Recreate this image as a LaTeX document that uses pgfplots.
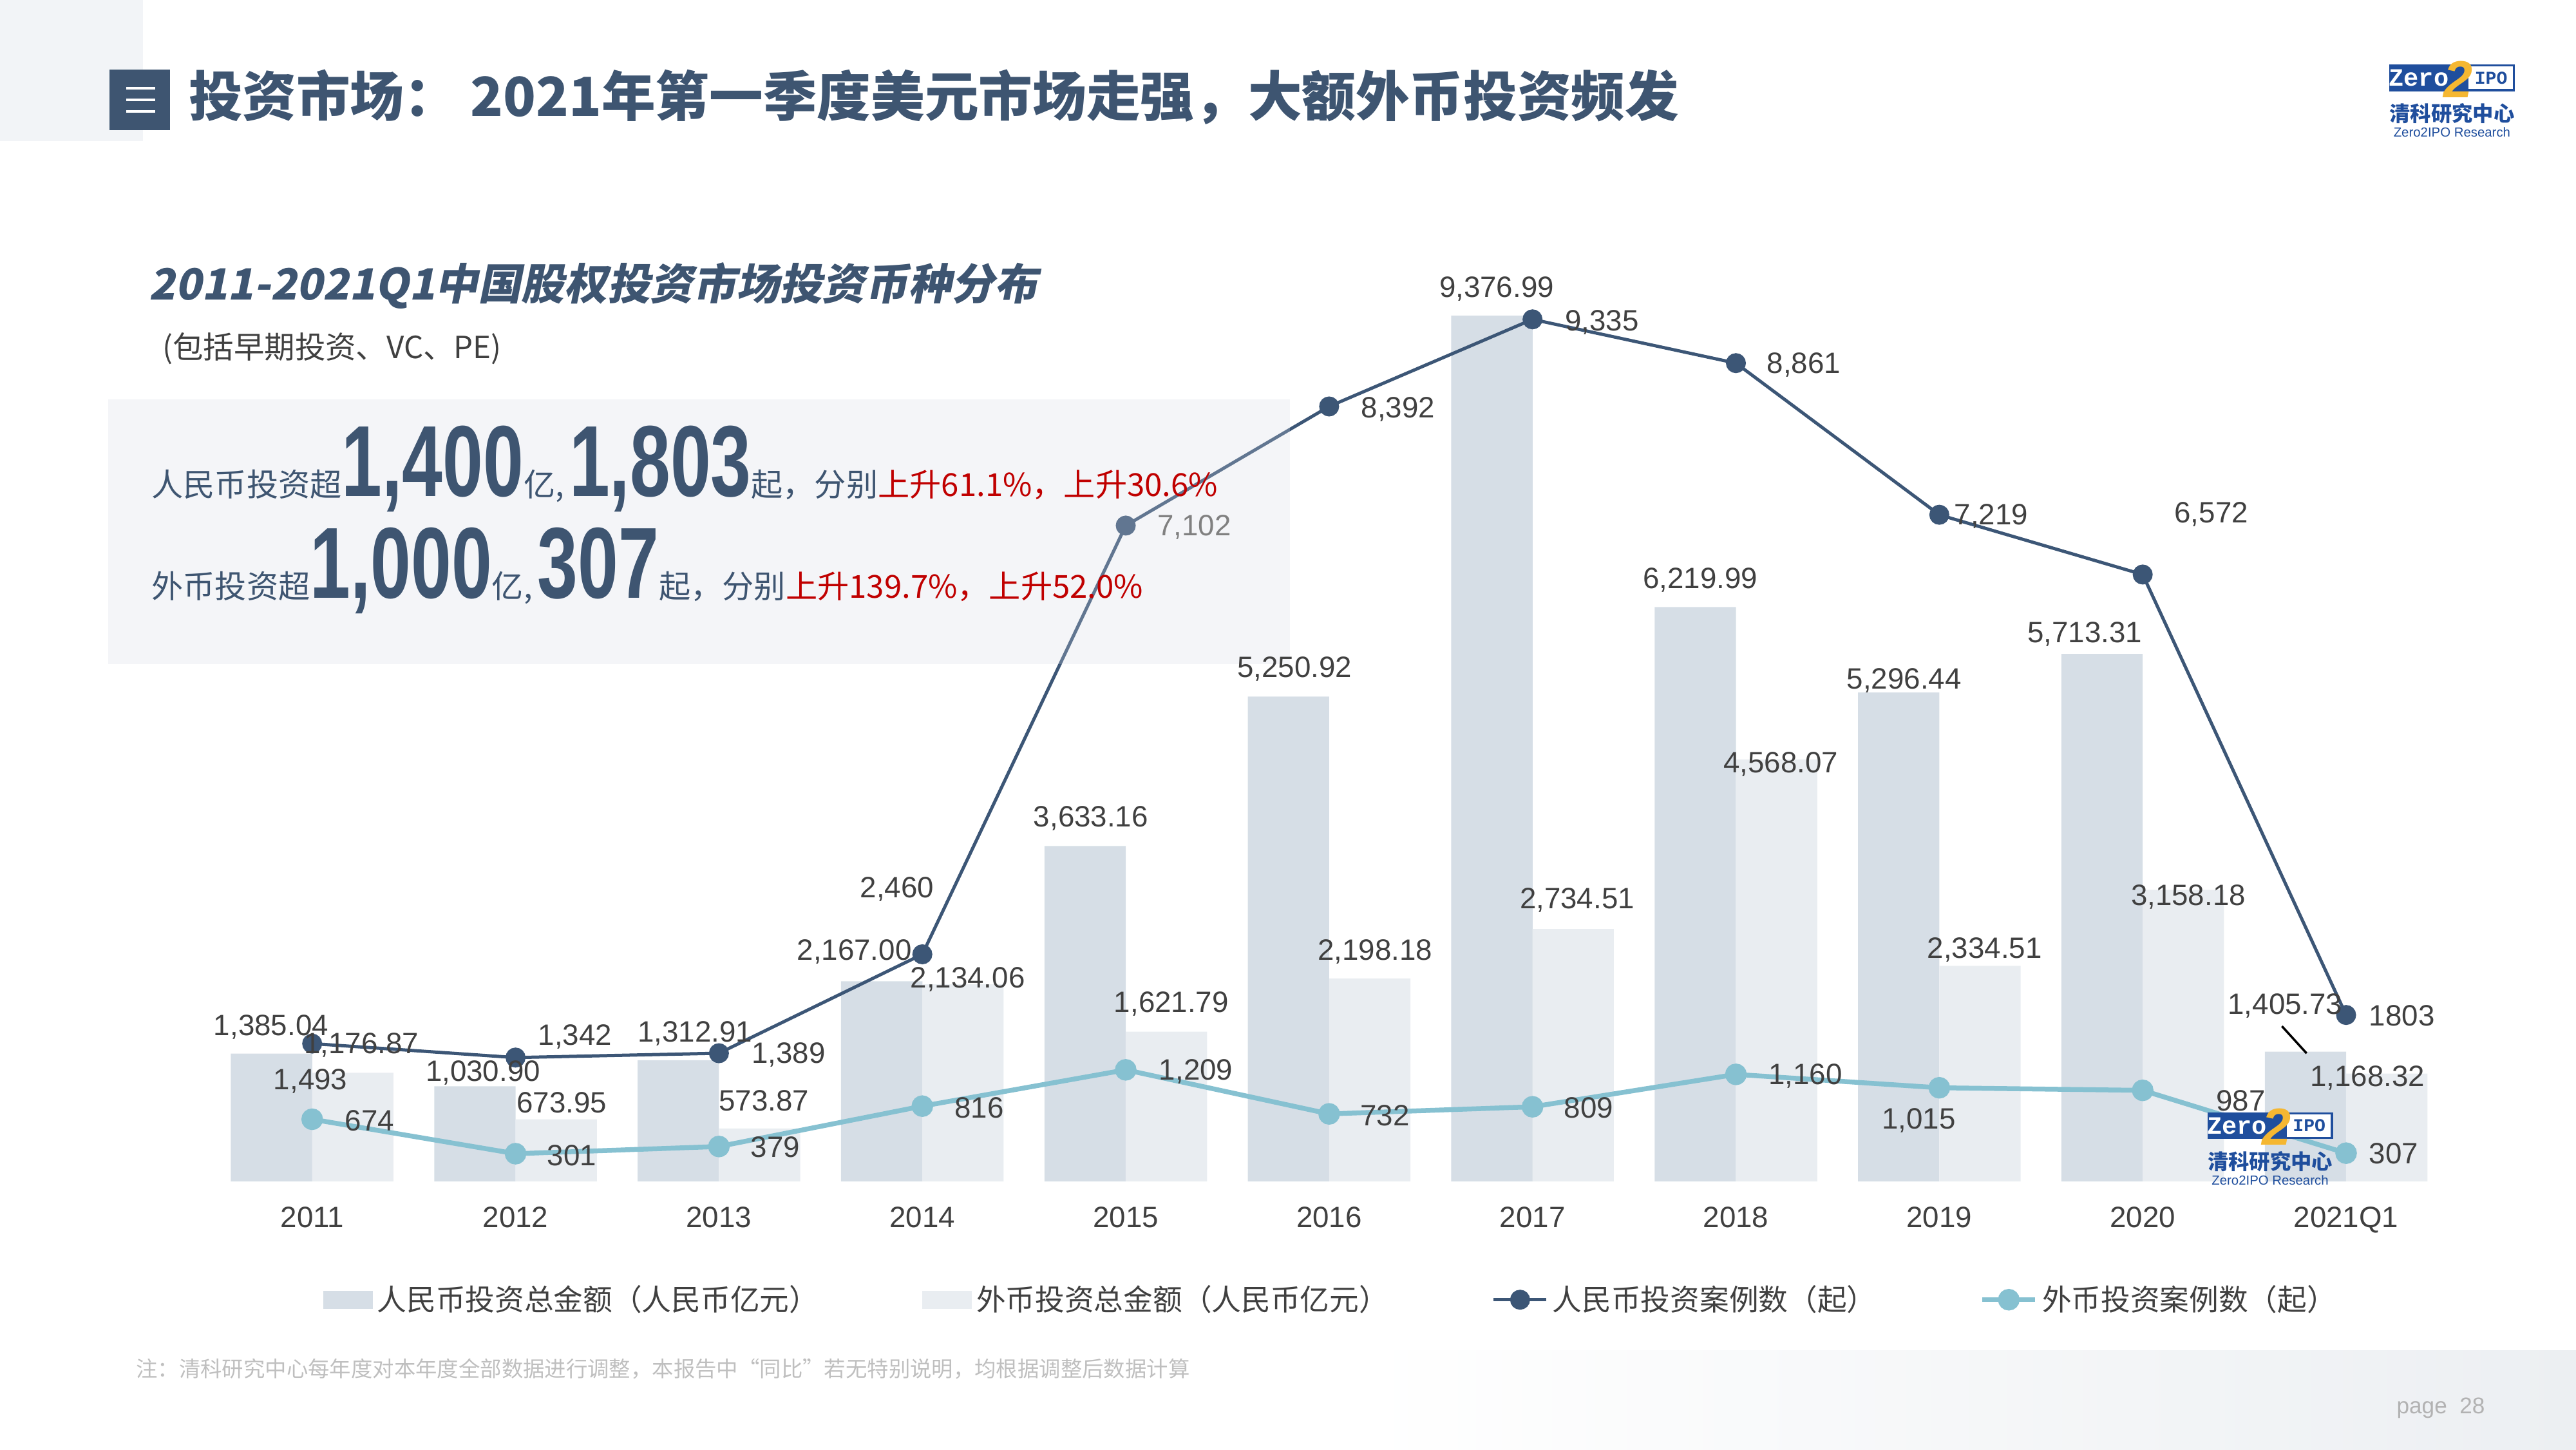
\documentclass[border=0pt]{standalone}
\usepackage{fontspec}
\setmainfont{Liberation Sans}
\newfontfamily\cjk{Noto Sans CJK SC}
\newfontfamily\cjksl[FakeSlant=0.2]{Noto Sans CJK SC}
\newfontfamily\narrow[FakeStretch=0.72]{Liberation Sans}
\newfontfamily\mono{Liberation Mono}
\usepackage{pgfplots}
\usepackage{pgfplotstable}
\pgfplotsset{compat=1.18}

\definecolor{slate}{HTML}{3E5571}
\definecolor{darkline}{HTML}{3C5676}
\definecolor{lightline}{HTML}{86C1D1}
\definecolor{rmbbar}{HTML}{D6DEE6}
\definecolor{fxbar}{HTML}{E9EDF1}
\definecolor{boxc}{RGB}{211,215,227}
\definecolor{lbl}{HTML}{404040}
\definecolor{zblue}{HTML}{1F4E9D}
\definecolor{zyellow}{HTML}{F5B731}
\definecolor{redt}{HTML}{C00000}
\definecolor{note}{HTML}{BFBFBF}
\definecolor{topblk}{HTML}{F2F4F7}
\definecolor{gradc}{HTML}{ECEFF2}

\pgfplotsset{
  linelegend/.style={legend image code/.code={%
    \draw[mark repeat=2,mark phase=2,##1] plot coordinates {(0mm,0mm) (4.1mm,0mm) (8.2mm,0mm)};}},
  barlegend/.style={legend image code/.code={%
    \fill[#1] (0mm,-1.4mm) rectangle (7.7mm,1.4mm);}},
}

\newcommand\fs[1]{\fontsize{#1}{#1}\selectfont}
\newcommand\bignum[1]{{\narrow\bfseries\fs{44.6}#1}}

% logo, top-left corner of the blue box given in page pixels (y down)
\newcommand\logo[2]{%
\begin{scope}[shift={(#1,882-#2)}]
  \fill[zblue] (0,0) rectangle (76.5,-16.3);
  \fill[white] (48.4,-1.3) rectangle (75.2,-15);
  \node[white,font=\mono\bfseries\fs{11}] at (18,-8.4) {Zero};
  \node[zblue,font=\mono\bfseries\fs{8}] at (62,-8.2) {IPO};
  \node[zyellow,font=\bfseries\itshape\fs{23}] at (42,-9) {2};
  \node[zblue,font=\cjk\bfseries\fs{9.2}] at (38.2,-30) {清科研究中心};
  \node[zblue,font=\fs{5.8}] at (38.2,-41.4) {Zero2IPO Research};
\end{scope}}

\pgfplotstableread{
x rmb fx rmbn fxn
0 1385.04 1176.87 1493 674
1 1030.90 673.95 1342 301
2 1312.91 573.87 1389 379
3 2167.00 2134.06 2460 816
4 3633.16 1621.79 7102 1209
5 5250.92 2198.18 8392 732
6 9376.99 2734.51 9335 809
7 6219.99 4568.07 8861 1160
8 5296.44 2334.51 7219 1015
9 5713.31 3158.18 6572 987
10 1405.73 1168.32 1803 307
}\data

\begin{document}
\begin{tikzpicture}[x=0.255102mm,y=0.255102mm]
\useasboundingbox (0,0) rectangle (1568,882);

% page decoration
\fill[topblk] (0,882) rectangle (87,882-86);
\shade[left color=white, right color=gradc] (829,0) rectangle (1568,60);
\fill[slate] (66.6,882-42.5) rectangle (103.6,882-79.3);
\foreach \yy in {53.8,60.8,67.8}
  \fill[white] (77,882-\yy+0.8) rectangle (94.5,882-\yy-0.8);
\node[anchor=west, text=slate, font=\cjk\bfseries\fs{23.8}] at (110,882-59)
  {投资市场：\ 2021年第一季度美元市场走强，大额外币投资频发};
\logo{1454.3}{39.2}

\node[anchor=west, text=slate, font=\cjksl\bfseries\fs{19}] at (86,882-174)
  {2011-2021Q1中国股权投资市场投资币种分布};
\node[anchor=west, text=lbl, font=\cjk\fs{13.5}] at (94,882-212)
  {(包括早期投资、VC、PE)};

\begin{axis}[
  at={(32.68mm,41.58mm)}, anchor=south west,
  scale only axis, width=347.4mm, height=143.37mm,
  xmin=-0.5, xmax=10.5, ymin=0, ymax=10000,
  clip=false,
  axis line style={draw=none}, major tick length=0pt,
  ytick=\empty,
  xtick={0,...,10},
  xticklabels={2011,2012,2013,2014,2015,2016,2017,2018,2019,2020,2021Q1},
  xticklabel style={anchor=base, yshift=-7.15mm, font=\fs{13}, text=lbl},
  legend columns=4,
  legend style={at={(0.5013,-0.128)}, anchor=center, draw=none, fill=none,
    font=\cjk\fs{13}, text=lbl,
    /tikz/every even column/.append style={column sep=15.4mm}},
]
\addplot[ybar, bar width=12.63mm, bar shift=-6.31mm, fill=rmbbar, draw=none,
  barlegend=rmbbar]
  table[x=x, y=rmb] {\data};
\addlegendentry{人民币投资总金额（人民币亿元）}
\addplot[ybar, bar width=12.63mm, bar shift=6.31mm, fill=fxbar, draw=none,
  barlegend=fxbar]
  table[x=x, y=fx] {\data};
\addlegendentry{外币投资总金额（人民币亿元）}
\addplot[darkline, line width=0.5mm, mark=*, mark size=1.3mm,
  mark options={fill=darkline, draw=darkline}, linelegend]
  table[x=x, y=rmbn] {\data};
\addlegendentry{人民币投资案例数（起）}
\addplot[lightline, line width=0.75mm, mark=*, mark size=1.3mm,
  mark options={fill=lightline, draw=lightline}, linelegend]
  table[x=x, y=fxn] {\data};
\addlegendentry{外币投资案例数（起）}
\end{axis}

% highlight box
\fill[boxc, fill opacity=0.25] (66,882-243) rectangle (785,882-404);
\node[anchor=base west, inner sep=0, text=slate] at (92,882-302)
  {{\cjk\fs{14}人民币投资超}\bignum{1,400}{\cjk\fs{14}亿,\,}\bignum{1,803}{\cjk\fs{14}起，分别\textcolor{redt}{上升61.1\%，上升30.6\%}}};
\node[anchor=base west, inner sep=0, text=slate] at (92,882-364)
  {{\cjk\fs{14}外币投资超}\bignum{1,000}{\cjk\fs{14}亿,\,}\bignum{307}{\cjk\fs{14}起，分别\textcolor{redt}{上升139.7\%，上升52.0\%}}};

% data labels
\foreach \lx/\ly/\lt in {
  165/625/{1,385.04}, 220/636/{1,176.87}, 189/658/{1,493}, 225/682/{674},
  294/653/{1,030.90}, 350/631/{1,342}, 342/671/{673.95}, 348/703/{301},
  423/629/{1,312.91}, 480/642/{1,389}, 465/670/{573.87}, 472/698/{379},
  546/541/{2,460}, 520/579/{2,167.00}, 589/596/{2,134.06}, 596/674/{816},
  664/498/{3,633.16}, 713/611/{1,621.79}, 728/652/{1,209},
  851/249/{8,392}, 788/407/{5,250.92}, 837/579/{2,198.18}, 843/679/{732},
  911/176/{9,376.99}, 975/196/{9,335}, 960/548/{2,734.51}, 967/674/{809},
  1098/222/{8,861}, 1035/353/{6,219.99}, 1084/465/{4,568.07}, 1099/655/{1,160},
  1212/314/{7,219}, 1159/414/{5,296.44}, 1208/578/{2,334.51}, 1168/682/{1,015},
  1346/313/{6,572}, 1269/386/{5,713.31}, 1332/546/{3,158.18}, 1364/670/{987},
  1391/612/{1,405.73}, 1462/618/{1803}, 1441/656/{1,168.32}, 1457/702/{307}}
  \node[font=\fs{13}, text=lbl, inner sep=0] at (\lx,882-\ly) {\lt};
\node[font=\fs{13}, text=gray, inner sep=0] at (727,882-321) {7,102};
\draw[black, line width=0.35mm] (1389,882-624.5) -- (1404,882-641);

\logo{1343.6}{676.8}

% footer
\node[anchor=west, text=note, font=\cjk\fs{9.5}] at (78,882-833)
  {注：清科研究中心每年度对本年度全部数据进行调整，本报告中“同比”若无特别说明，均根据调整后数据计算};
\node[anchor=west, text=note!120, font=\fs{10}] at (1454,882-857) {page\ \ 28};
\end{tikzpicture}
\end{document}
